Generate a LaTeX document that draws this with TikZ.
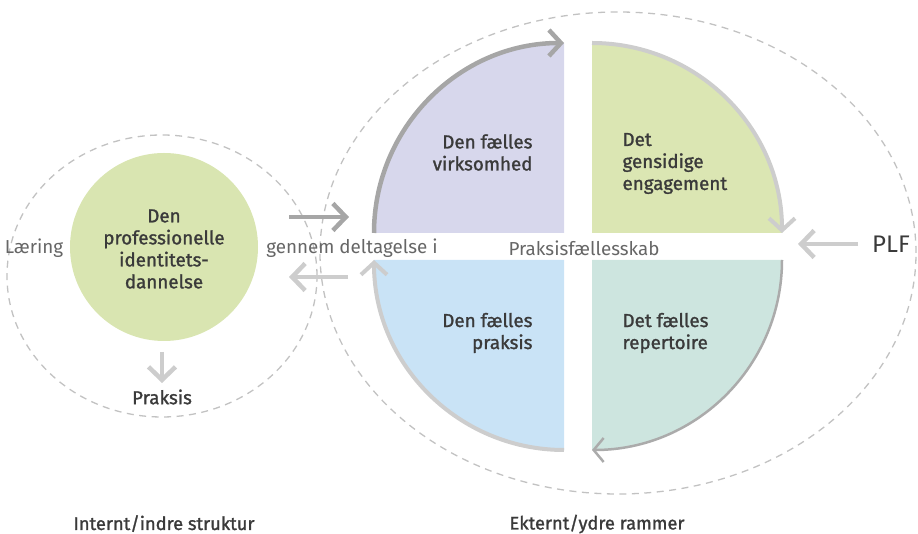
\documentclass[tikz,border=0pt]{standalone}
\usepackage{fontspec}
\setmainfont{Fira Sans}
\newfontfamily\medfont{Fira Sans}[FakeBold=1.3]
\usetikzlibrary{arrows.meta}

\definecolor{ink}{HTML}{3A3A3A}
\definecolor{softink}{HTML}{666666}
\definecolor{ringgray}{HTML}{C2C2C2}
\definecolor{darkarrow}{HTML}{A6A6A6}
\definecolor{lightarrow}{HTML}{CDCDCD}
\definecolor{midarrow}{HTML}{ABABAB}
\definecolor{idgreen}{HTML}{D9E5B1}
\definecolor{qpurple}{HTML}{D7D7EC}
\definecolor{qgreen}{HTML}{DBE6B3}
\definecolor{qblue}{HTML}{C9E3F6}
\definecolor{qteal}{HTML}{CDE5DF}

\begin{document}
\begin{tikzpicture}[x=1pt,y=1pt,
  dashring/.style={draw=ringgray, line width=1.3pt, dash pattern=on 7pt off 5.5pt},
  barb/.style={-{Straight Barb[length=13pt,width=27pt]}},
  fatarrow/.style={line width=4.5pt, barb},
  heading/.style={font=\medfont\fontsize{18.8}{22}\selectfont, text=ink},
  soft/.style={font=\fontsize{18.8}{22}\selectfont, text=softink},
  caption/.style={font=\medfont\fontsize{18.3}{20}\selectfont, text=ink},
]
\useasboundingbox (0,0) rectangle (918,534);

% dashed outer rings
\draw[dashring] (162,258) ellipse [x radius=155pt, y radius=141pt];
\draw[dashring] (618,281) ellipse [x radius=298pt, y radius=241pt];

% the four quadrants of the community of practice
\fill[qpurple] (564,301) -- (374,301) arc [start angle=180, end angle=90, radius=190pt] -- cycle;
\fill[qgreen]  (592,301) -- (592,491) arc [start angle=90, end angle=0, radius=190pt] -- cycle;
\fill[qblue]   (564,274) -- (374,274) arc [start angle=180, end angle=270, radius=190pt] -- cycle;
\fill[qteal]   (592,274) -- (782,274) arc [start angle=0, end angle=-90, radius=190pt] -- cycle;

% circular flow around the quadrants
\coordinate (pA) at (374,301);
\coordinate (gA) at (592,491);
\coordinate (tA) at (782,274);
\coordinate (bA) at (564,84);
\draw[line width=4.5pt, darkarrow, -{Straight Barb[length=12pt,width=26pt]}]
  (pA) arc [start angle=180, end angle=90, radius=190pt];
\draw[line width=4pt, lightarrow, -{Straight Barb[length=12pt,width=26pt]}]
  (gA) arc [start angle=90, end angle=0, radius=190pt];
\draw[line width=2.5pt, midarrow, -{Straight Barb[length=10pt,width=24pt]}]
  (tA) arc [start angle=0, end angle=-90, radius=190pt];
\draw[line width=4pt, lightarrow, -{Straight Barb[length=12pt,width=26pt]}]
  (bA) arc [start angle=270, end angle=180, radius=190pt];

% quadrant labels
\node[heading, align=right, anchor=east] (virk) at (536,381.5) {Den fælles\\virksomhed};
\node[heading, align=left, anchor=west] (eng) at (619,370.5) {Det\\gensidige\\engagement};
\node[heading, align=right, anchor=east] (prak) at (536,201) {Den fælles\\praksis};
\node[heading, align=left, anchor=west] (rep) at (619,201) {Det fælles\\repertoire};

% professional identity
\node[circle, fill=idgreen, minimum size=188pt, inner sep=0pt]
  (identity) at (164,287) {};
\node[heading, align=center] (identitytext) at (164,285) {Den\\professionelle\\identitets-\\dannelse};

% middle line of text
\node[soft] (laering) at (34,286) {Læring};
\node[soft] (gennem) at (352,286) {gennem deltagelse i};
\node[soft] (pfs) at (584,286) {Praksisfællesskab};

% arrows between the two rings
\coordinate (outS) at (289,317);
\coordinate (outE) at (349,317);
\coordinate (inS) at (348,257);
\coordinate (inE) at (289,257);
\draw[fatarrow, darkarrow] (outS) -- (outE);
\draw[fatarrow, lightarrow] (inS) -- (inE);

% practice below the identity circle
\coordinate (downS) at (162,182);
\coordinate (downE) at (162,151);
\draw[fatarrow, lightarrow] (downS) -- (downE);
\node[heading] (praksis) at (162,137) {Praksis};

% PLF pointing into the community
\coordinate (plfS) at (858,290);
\coordinate (plfE) at (798,290);
\draw[fatarrow, lightarrow] (plfS) -- (plfE);
\node[font=\fontsize{24}{26}\selectfont, text=ink] (plf) at (891,290) {PLF};

% frame captions
\node[caption, anchor=base] (intern) at (164,4) {Internt/indre struktur};
\node[caption, anchor=base] (extern) at (597,4.5) {Ekternt/ydre rammer};
\end{tikzpicture}
\end{document}
